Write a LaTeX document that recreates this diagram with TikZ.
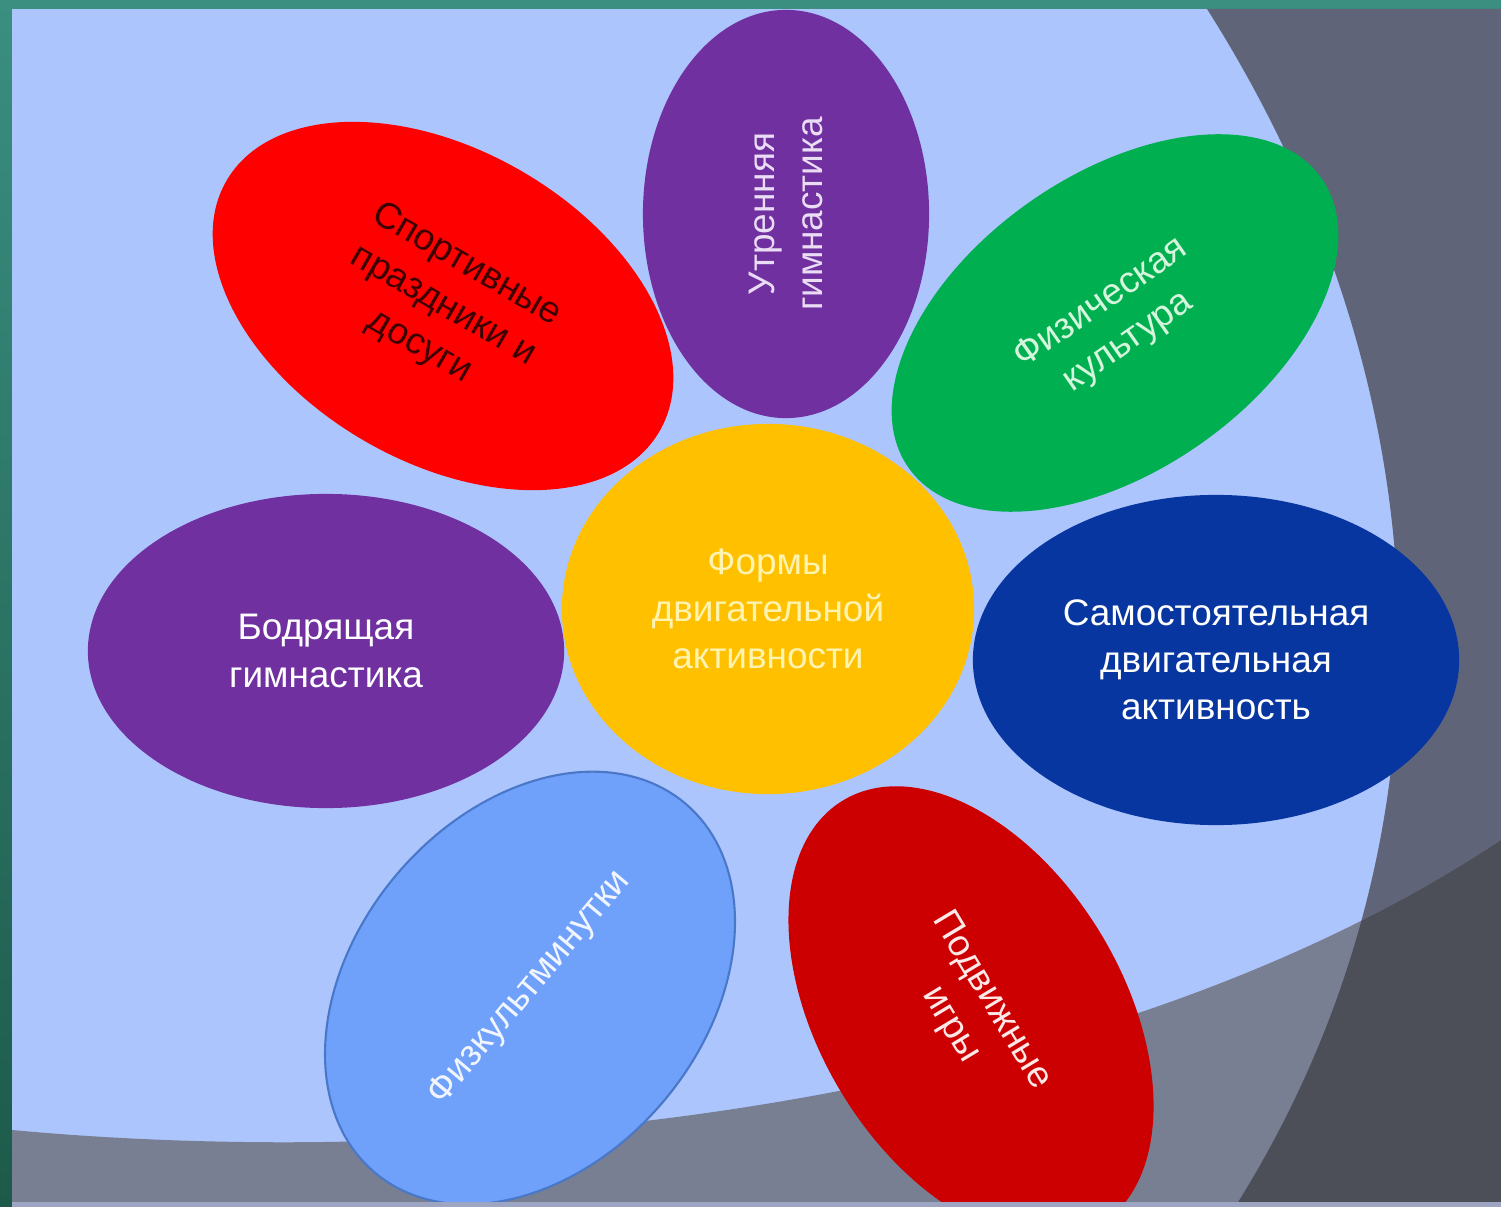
\documentclass[tikz,border=0pt]{standalone}
\usepackage{fontspec}
\setmainfont{Liberation Sans}
\usetikzlibrary{shapes.geometric}
\definecolor{tealA}{HTML}{3A8F80}
\definecolor{tealB}{HTML}{1D5A4A}
\definecolor{panel}{HTML}{ADC5FD}
\definecolor{grayA}{HTML}{5F6478}
\definecolor{grayB}{HTML}{787F92}
\definecolor{grayAB}{HTML}{4C4E58}
\definecolor{strip}{HTML}{9EA5C2}
\definecolor{cYellow}{HTML}{FFC000}
\definecolor{cPurple}{HTML}{7030A0}
\definecolor{cRed}{HTML}{FF0000}
\definecolor{cGreen}{HTML}{00B050}
\definecolor{cBlue}{HTML}{0836A0}
\definecolor{cLight}{HTML}{6FA0FA}
\definecolor{cLightEdge}{HTML}{4A78C8}
\definecolor{cDark}{HTML}{CC0000}
\definecolor{tYellow}{HTML}{FFF3B0}
\definecolor{tPurple}{HTML}{EADCF5}
\definecolor{tRed}{HTML}{3C0000}
\definecolor{tGreen}{HTML}{D5F5DC}
\definecolor{tLight}{HTML}{F0F5FF}
\definecolor{tDark}{HTML}{FFE8E8}
\begin{document}
\begin{tikzpicture}[x=0.01cm,y=-0.01cm,
  petal/.style={ellipse, inner sep=0pt, align=center,
    font=\fontsize{10.5pt}{13.4pt}\selectfont}]
\useasboundingbox (0,0) rectangle (1501,1207);
% background frame and panel
\shade[top color=tealA, bottom color=tealB] (0,0) rectangle (1501,1207);
\fill[panel] (12,9) rectangle (1501,1207);
% gray decorative shapes
\fill[grayA] (1207,9) .. controls (1455,400) and (1460,850) .. (1235,1207)
  -- (1501,1207) -- (1501,9) -- cycle;
\fill[grayB] (12,1130) .. controls (500,1175) and (1110,1100) .. (1501,840)
  -- (1501,1207) -- (12,1207) -- cycle;
\begin{scope}
  \clip (1207,9) .. controls (1455,400) and (1460,850) .. (1235,1207)
    -- (1501,1207) -- (1501,9) -- cycle;
  \fill[grayAB] (12,1130) .. controls (500,1175) and (1110,1100) .. (1501,840)
    -- (1501,1207) -- (12,1207) -- cycle;
\end{scope}
% petals
\node[petal, fill=cPurple, rotate=90, minimum width=4.08cm, minimum height=2.86cm,
  text=tPurple] (morning) at (786,214) {Утренняя\\гимнастика};
\node[petal, fill=cRed, rotate=-30, minimum width=5.0cm, minimum height=3.12cm,
  text=tRed] (sport) at (443,306) {Спортивные\\праздники и\\досуги};
\node[petal, fill=cGreen, rotate=35, minimum width=5.04cm, minimum height=2.96cm,
  text=tGreen] (phys) at (1115,323) {Физическая\\культура};
\node[petal, fill=cPurple, minimum width=4.76cm, minimum height=3.14cm,
  text=white] (bodr) at (326,651) {Бодрящая\\гимнастика};
\node[petal, fill=cBlue, minimum width=4.86cm, minimum height=3.3cm,
  text=white] (self) at (1216,660) {Самостоятельная\\двигательная\\активность};
\node[petal, fill=cLight, draw=cLightEdge, line width=0.6pt, rotate=50,
  minimum width=4.82cm, minimum height=3.5cm, text=tLight] (minutes) at (530,988)
  {Физкультминутки};
\node[petal, fill=cDark, rotate=-59, minimum width=4.96cm, minimum height=3.04cm,
  text=tDark] (games) at (971,1013) {Подвижные\\игры};
\node[petal, fill=cYellow, minimum width=4.12cm, minimum height=3.7cm,
  text=tYellow] (center) at (768,609) {Формы\\двигательной\\активности};
% bottom light strip
\fill[strip] (12,1202) rectangle (1501,1207);
\end{tikzpicture}
\end{document}
